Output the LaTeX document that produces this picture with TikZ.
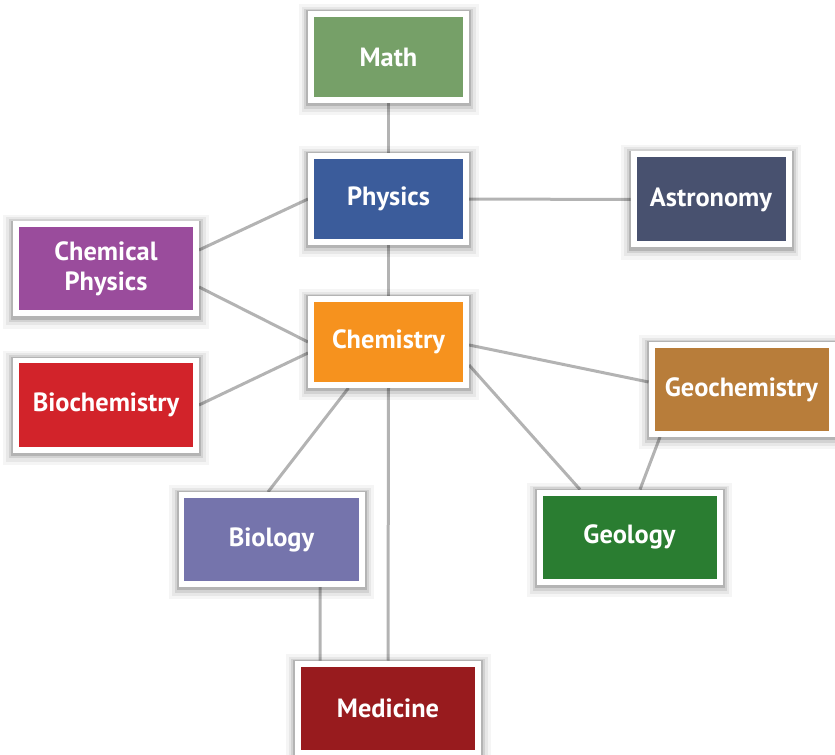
\documentclass[tikz,border=0pt]{standalone}
\usepackage{fontspec}
\setmainfont{PT Sans}
\usetikzlibrary{backgrounds}
\definecolor{mathgreen}{HTML}{76A068}
\definecolor{physblue}{HTML}{3B5C9B}
\definecolor{astroslate}{HTML}{48516F}
\definecolor{chphpurple}{HTML}{9A4C9C}
\definecolor{chemorange}{HTML}{F6921E}
\definecolor{biochred}{HTML}{D2232A}
\definecolor{geochbrown}{HTML}{B87D3A}
\definecolor{geolgreen}{HTML}{2A7D31}
\definecolor{biolviolet}{HTML}{7574AC}
\definecolor{medred}{HTML}{981B1E}
\definecolor{linkgray}{HTML}{B3B3B3}
\tikzstyle{field} = [rectangle, draw=white, line width=0.12cm, text=white, font=\fontsize{15}{17}\selectfont\bfseries, align=center,
        preaction={draw=black, opacity=0.04, line width=0.50cm, transform canvas={yshift=-0.06cm}},
        preaction={draw=black, opacity=0.06, line width=0.38cm, transform canvas={yshift=-0.05cm}},
        preaction={draw=black, opacity=0.09, line width=0.28cm, transform canvas={yshift=-0.04cm}},
        preaction={draw=black, opacity=0.14, line width=0.20cm, transform canvas={yshift=-0.03cm}}]
\tikzstyle{small} = [field, minimum width=3.1cm, minimum height=1.72cm]
\tikzstyle{large} = [field, minimum width=3.6cm, minimum height=1.78cm]
\tikzstyle{link} = [linkgray, line width=0.06cm]

\begin{document}
\begin{tikzpicture}
        \useasboundingbox (0,0) rectangle (16.7,-15.1);

        \node (math) [small, fill=mathgreen] at (7.77,-1.14) {Math};
        \node (physics) [small, fill=physblue] at (7.77,-3.98) {Physics};
        \node (astronomy) [small, fill=astroslate, minimum height=1.8cm] at (14.22,-3.99) {Astronomy};
        \node (chemphys) [large, fill=chphpurple] at (2.12,-5.38) {Chemical\\Physics};
        \node (chemistry) [small, fill=chemorange] at (7.77,-6.84) {Chemistry};
        \node (biochem) [large, fill=biochred] at (2.12,-8.10) {Biochemistry};
        \node (geochem) [large, fill=geochbrown] at (14.83,-7.79) {Geochemistry};
        \node (geology) [large, fill=geolgreen] at (12.59,-10.74) {Geology};
        \node (biology) [large, fill=biolviolet] at (5.43,-10.79) {Biology};
        \node (medicine) [large, fill=medred] at (7.76,-14.16) {Medicine};

        \begin{scope}[on background layer]
        \draw [link] (math) -- (physics);
        \draw [link] (physics) -- (astronomy);
        \draw [link] (physics) -- (chemistry);
        \draw [link] ([yshift=0.38cm]chemphys.east) -- (physics.west);
        \draw [link] ([yshift=-0.36cm]chemphys.east) -- (chemistry.west);
        \draw [link] (biochem.east) -- ([yshift=-0.22cm]chemistry.west);
        \draw [link] ([xshift=-0.8cm]chemistry.south) -- ([xshift=-0.07cm]biology.north);
        \draw [link] (chemistry.south) -- (medicine.north);
        \draw [link] ([xshift=0.97cm]biology.south) -- ([xshift=-1.36cm]medicine.north);
        \draw [link] ([yshift=-0.06cm]chemistry.east) -- ([yshift=0.15cm]geochem.west);
        \draw [link] ([yshift=-0.46cm]chemistry.east) -- ([xshift=-0.99cm]geology.north);
        \draw [link] ([xshift=-1.63cm]geochem.south) -- ([xshift=0.21cm]geology.north);
        \end{scope}
\end{tikzpicture}
\end{document}
